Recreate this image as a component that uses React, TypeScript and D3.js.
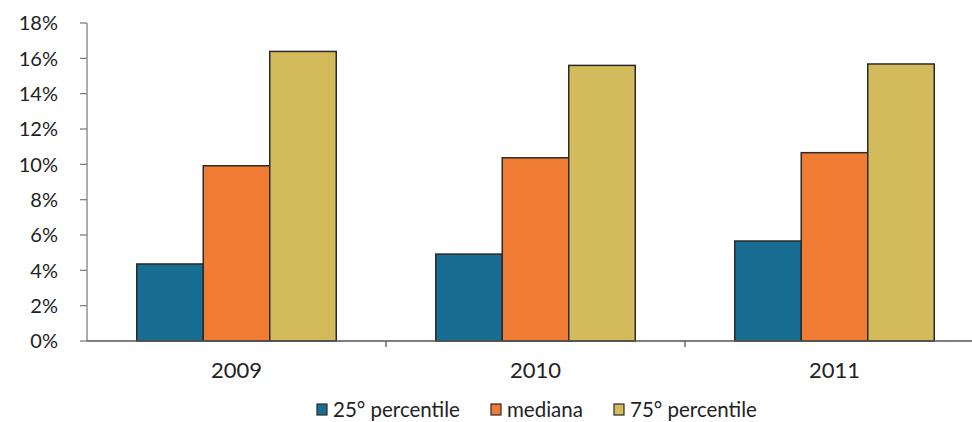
import React from "react";
import * as d3 from "d3";

const categories = ["2009", "2010", "2011"];
const seriesNames = ["25° percentile", "mediana", "75° percentile"];
const p25 = [4.36, 4.92, 5.66];
const median = [9.92, 10.37, 10.66];
const p75 = [16.39, 15.6, 15.68];
const yTicks = [0, 2, 4, 6, 8, 10, 12, 14, 16, 18];
const colors = ["#186E92", "#F07B33", "#D3BA5A"];

const W = 972;
const H = 422;
const FONT = "Lato, 'Open Sans', sans-serif";

export default function App() {
  const series = [p25, median, p75];
  const left = 87;
  const catW = 299;
  const x = d3.scaleBand<string>().domain(categories).range([left, left + catW * 3]).paddingInner(0).paddingOuter(0);
  const inner = d3.scaleBand<string>().domain(seriesNames).range([0, catW]).paddingInner(0).paddingOuter(0.5 * (catW - 199.5) / 66.5);
  const y = d3.scaleLinear().domain([0, 18]).range([341, 23]);
  return (
    <svg width={W} height={H} style={{ position: "absolute", left: 0, top: 0, background: "#fff" }}>
      {/* y axis */}
      <line x1={left} x2={left} y1={y(18)} y2={y(0)} stroke="#808080" strokeWidth={1.3} />
      {yTicks.map((t) => (
        <g key={t}>
          <line x1={left - 7} x2={left} y1={y(t)} y2={y(t)} stroke="#808080" strokeWidth={1.3} />
          <text x={58} y={y(t)} dy="0.36em" textAnchor="end" fontFamily={FONT} fontSize={20} fill="#222">
            {t}%
          </text>
        </g>
      ))}
      {/* bars */}
      {categories.map((c, ci) => (
        <g key={c}>
          {series.map((s, si) => (
            <rect
              key={si}
              x={(x(c) as number) + (inner(seriesNames[si]) as number)}
              y={y(s[ci])}
              width={inner.bandwidth()}
              height={y(0) - y(s[ci])}
              fill={colors[si]}
              stroke="#2a2a2a"
              strokeWidth={1.5}
            />
          ))}
        </g>
      ))}
      {/* x axis */}
      <line x1={left} x2={W} y1={y(0)} y2={y(0)} stroke="#555" strokeWidth={1.3} />
      {categories.map((c, i) => (
        <line key={"t" + c} x1={left + catW * (i + 1)} x2={left + catW * (i + 1)} y1={y(0)} y2={y(0) + 6} stroke="#555" strokeWidth={1.3} />
      ))}
      {categories.map((c) => (
        <text key={"l" + c} x={(x(c) as number) + x.bandwidth() / 2} y={378} textAnchor="middle" fontFamily={FONT} fontSize={22} fill="#222">
          {c}
        </text>
      ))}
      {/* legend */}
      {[
        { sx: 317, tx: 333 },
        { sx: 491, tx: 507 },
        { sx: 614, tx: 630 },
      ].map((p, i) => (
        <g key={"lg" + i}>
          <rect x={p.sx} y={404} width={10} height={11} fill={colors[i]} stroke="#2a2a2a" strokeWidth={1.2} />
          <text x={p.tx} y={417} fontFamily={FONT} fontSize={20.5} fill="#222">
            {seriesNames[i]}
          </text>
        </g>
      ))}
    </svg>
  );
}
